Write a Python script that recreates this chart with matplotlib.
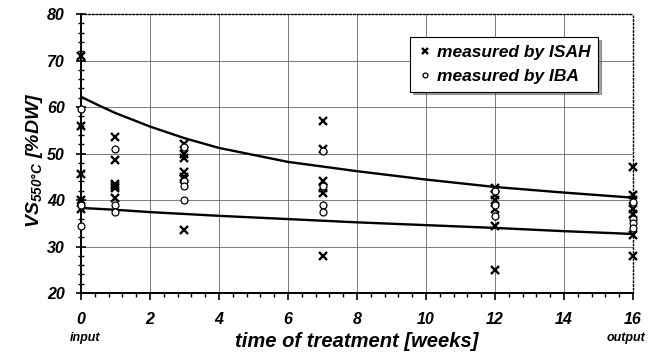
import matplotlib
matplotlib.use('Agg')
import matplotlib.pyplot as plt
from matplotlib.ticker import MultipleLocator

plt.rcParams['font.family'] = 'Liberation Sans'
plt.rcParams['font.weight'] = 'bold'
plt.rcParams['font.style'] = 'italic'
plt.rcParams['axes.labelweight'] = 'bold'
plt.rcParams['mathtext.fontset'] = 'custom'
plt.rcParams['mathtext.rm'] = 'Liberation Sans:bold:italic'
plt.rcParams['mathtext.it'] = 'Liberation Sans:bold:italic'

# measured by ISAH (x markers)
isah_t = [0, 0, 0, 0, 0,
          1, 1, 1, 1, 1, 1,
          3, 3, 3, 3, 3, 3, 3,
          7, 7, 7, 7, 7, 7,
          12, 12, 12, 12, 12, 12,
          16, 16, 16, 16, 16, 16, 16]
isah_vs = [71, 56, 45.5, 40, 38,
           53.5, 48.5, 43.5, 43, 42.5, 40.5,
           52, 50, 49, 46, 45, 44.5, 33.5,
           57, 51, 44, 42.5, 41.5, 28,
           42.5, 41, 40, 38, 34.5, 25,
           47, 41, 40, 38, 37, 32.5, 28]

# measured by IBA (open circles)
iba_t = [0, 0, 0,
         1, 1, 1,
         3, 3, 3, 3,
         7, 7, 7, 7,
         12, 12, 12,
         16, 16, 16, 16]
iba_vs = [59.5, 39, 34.5,
          51, 39, 37.5,
          51.5, 44, 43, 40,
          50.5, 43, 39, 37.5,
          42, 39, 36.5,
          39.5, 36, 35, 34]

# trend curves
fit_t = [0, 0.5, 1, 2, 3, 4, 6, 8, 10, 12, 14, 16]
fit_upper = [62.2, 60.4, 58.7, 55.8, 53.3, 51.2, 48.2, 46.2, 44.4, 42.8, 41.6, 40.5]
fit_lower = [38.3, 38.1, 37.9, 37.4, 37.0, 36.6, 35.9, 35.2, 34.6, 34.0, 33.3, 32.7]

fig = plt.figure(figsize=(6.51, 3.64), dpi=100)
ax = fig.add_axes([0.1244, 0.195, 0.848, 0.7665])

ax.grid(True, which='major', color='#666666', lw=0.6)
ax.set_axisbelow(True)

ax.plot(fit_t, fit_upper, color='black', lw=1.7, zorder=3)
ax.plot(fit_t, fit_lower, color='black', lw=1.7, zorder=3)

ax.plot(isah_t, isah_vs, ls='none', marker='x', ms=5.5, mew=1.7, color='black',
        label='measured by ISAH', zorder=4, clip_on=False)
ax.plot(iba_t, iba_vs, ls='none', marker='o', ms=5, mew=0.9, mfc='white', mec='black',
        label='measured by IBA', zorder=4, clip_on=False)

ax.set_xlim(0, 16)
ax.set_ylim(20, 80)
ax.xaxis.set_major_locator(MultipleLocator(2))
ax.xaxis.set_minor_locator(MultipleLocator(0.4))
ax.yaxis.set_major_locator(MultipleLocator(10))
ax.yaxis.set_minor_locator(MultipleLocator(2))
ax.tick_params(axis='x', which='both', direction='out', labelsize=11.5, pad=9)
ax.tick_params(axis='x', which='major', length=5, width=1.2)
ax.tick_params(axis='x', which='minor', length=3, width=1)
ax.tick_params(axis='y', which='both', direction='inout', labelsize=11.5, pad=8)
ax.tick_params(axis='y', which='major', length=7, width=1.2)
ax.tick_params(axis='y', which='minor', length=5, width=1)

for s in ['top', 'right']:
    ax.spines[s].set_linestyle(':')
    ax.spines[s].set_linewidth(1)
for s in ['left', 'bottom']:
    ax.spines[s].set_linewidth(1.4)

ax.set_xlabel('time of treatment [weeks]', fontsize=14.5, labelpad=3)
ax.set_ylabel(r'VS$_{550°C}$ [%DW]', fontsize=14)
ax.yaxis.set_label_coords(-0.066, 0.477)

ax.text(0.008, -0.16, 'input', transform=ax.transAxes, ha='center',
        va='center', fontsize=9)
ax.text(1.022, -0.16, 'output', transform=ax.transAxes, ha='right',
        va='center', fontsize=9)

leg = ax.legend(loc='upper right', bbox_to_anchor=(0.937, 0.918), borderaxespad=0,
                fontsize=12.5, fancybox=False, shadow=True, framealpha=1,
                edgecolor='black', handlelength=0.8, handletextpad=0.3,
                borderpad=0.45, labelspacing=0.5, markerscale=0.7)
leg.get_frame().set_linewidth(0.8)

fig.savefig('out.png', dpi=100)
